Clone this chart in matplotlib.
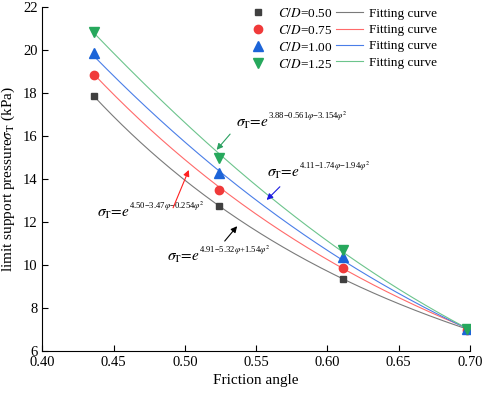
import numpy as np
import matplotlib
matplotlib.use("Agg")
import matplotlib.pyplot as plt
from matplotlib.lines import Line2D

plt.rcParams['font.family'] = ['Liberation Serif', 'DejaVu Serif']
plt.rcParams['mathtext.fontset'] = 'stix'

# friction angle (rad)
friction = [0.436, 0.524, 0.611, 0.698]

# measured limit support pressure (kPa)
cd_050 = [17.85, 12.74, 9.35, 7.05]
cd_075 = [18.84, 13.49, 9.85, 6.97]
cd_100 = [19.86, 14.29, 10.37, 7.02]
cd_125 = [20.84, 14.96, 10.67, 6.99]

# fitted coefficients: sigma = exp(a + b*phi + c*phi^2)
fit_050 = [4.91, -5.32, 1.54]
fit_075 = [4.50, -3.47, -0.254]
fit_100 = [4.11, -1.74, -1.94]
fit_125 = [3.88, -0.561, -3.154]

cd_labels = ['0.50', '0.75', '1.00', '1.25']
fit_exps = ['4.91\u22125.32$\\varphi$+1.54$\\varphi^2$',
            '4.50\u22123.47$\\varphi$\u22120.254$\\varphi^2$',
            '4.11\u22121.74$\\varphi$\u22121.94$\\varphi^2$',
            '3.88\u22120.561$\\varphi$\u22123.154$\\varphi^2$']

marker_colors = ['#404040', '#f03a3a', '#1c64d8', '#26a85c']
line_colors = ['#7a7a7a', '#ff6a6a', '#4a7ee8', '#6cc48c']
arrow_colors = ['black', '#ff2020', '#1a1ae0', '#2aa060']
markers = ['s', 'o', '^', 'v']
msizes = [5, 6, 6.5, 6.5]

fig = plt.figure(figsize=(4.84, 3.96), dpi=100)
ax = fig.add_axes([0.0874, 0.1144, 0.8837, 0.8672])

series = [cd_050, cd_075, cd_100, cd_125]
fits = [fit_050, fit_075, fit_100, fit_125]
phi = np.linspace(friction[0], friction[-1], 200)

for i in range(4):
    a, b, c = fits[i]
    ax.plot(phi, np.exp(a + b * phi + c * phi ** 2), color=line_colors[i], lw=0.8, zorder=2)
    ax.plot(friction, series[i], linestyle='none', marker=markers[i],
            color=marker_colors[i], ms=msizes[i], zorder=3)

# annotations: text position, arrow tail, arrow head
text_pos = [(0.4872, 10.30), (0.4381, 12.35), (0.5573, 14.21), (0.5362, 16.54)]
tails = [(0.5267, 11.01), (0.491, 12.54), (0.568, 13.73), (0.533, 16.19)]
heads = [(0.5379, 11.90), (0.5035, 14.54), (0.556, 12.93), (0.521, 15.26)]
for i in range(4):
    base = ax.text(text_pos[i][0], text_pos[i][1],
                   r'$\sigma_{\!\mathrm{T}}\!=\!e$',
                   fontsize=11, va='center', ha='left')
    ax.annotate(fit_exps[i], xy=(0.97, 0.62), xycoords=base, fontsize=6.2,
                va='bottom', ha='left')
    ax.annotate('', xy=heads[i], xytext=tails[i],
                arrowprops=dict(arrowstyle='-|>', color=arrow_colors[i],
                                lw=0.8, mutation_scale=9))

ax.set_xlim(0.40, 0.70)
ax.set_ylim(6, 22)
ax.set_xticks([0.40, 0.45, 0.50, 0.55, 0.60, 0.65, 0.70])
ax.set_yticks(range(6, 23, 2))
ax.xaxis.set_major_formatter(matplotlib.ticker.FormatStrFormatter('%.2f'))
ax.spines['top'].set_visible(False)
ax.spines['right'].set_visible(False)
ax.tick_params(direction='in', length=4, width=0.8, labelsize=10.5)
for s in ['left', 'bottom']:
    ax.spines[s].set_linewidth(0.8)

ax.set_xlabel('Friction angle', fontsize=11)
ax.set_ylabel(r'limit support pressure$\sigma_\mathrm{T}$ (kPa)', fontsize=11)

handles = []
labels = []
for i in range(4):
    handles.append(Line2D([], [], linestyle='none', marker=markers[i],
                          color=marker_colors[i], ms=msizes[i]))
    labels.append(r'$C/D$=' + cd_labels[i])
for i in range(4):
    handles.append(Line2D([], [], color=line_colors[i], lw=0.8))
    labels.append('Fitting curve')
fig.legend(handles, labels, ncol=2, loc='upper left',
           bbox_to_anchor=(245 / 484, 1 - 7 / 396), frameon=False,
           fontsize=9.5, handlelength=2.0, handletextpad=0.5,
           columnspacing=0.3, labelspacing=0.3, borderpad=0, borderaxespad=0)

fig.savefig('out.png', dpi=100)
